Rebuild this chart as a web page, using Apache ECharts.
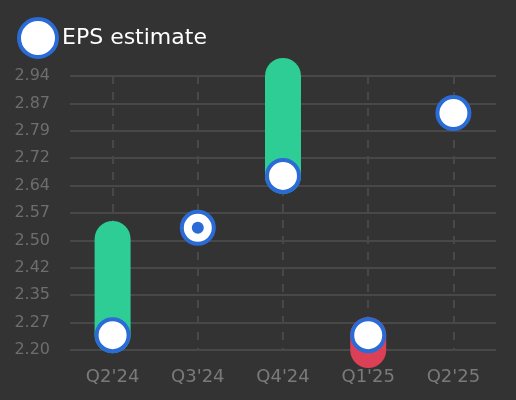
<!DOCTYPE html>
<html>

<head>
	<meta charset="utf-8">
	<title>EPS estimate</title>
	<script src="https://cdn.jsdelivr.net/npm/echarts@6/dist/echarts.min.js"></script>
	<style>
		html, body { margin: 0; padding: 0; background: #333333; }
	</style>
</head>

<body>
	<div id="main" style="width: 516px;height:400px;"></div>

	<script type="text/javascript">
		// data
		var quarters = ["Q2'24", "Q3'24", "Q4'24", "Q1'25", "Q2'25"];
		var estimate = [2.24, 2.53, 2.67, 2.24, 2.84];
		var actual = [2.50, 2.53, 2.94, 2.20, null];
		var yMin = 2.20;
		var yMax = 2.94;
		var yStep = 0.074;

		var green = '#2ecd95';
		var red = '#db4057';
		var blue = '#2b6bd6';
		var gridColor = '#484848';

		// bar = est -> actual, met = only where they are equal
		var bars = [];
		var met = [];
		quarters.forEach(function (q, i) {
			if (actual[i] != null && actual[i] !== estimate[i]) {
				bars.push([i, estimate[i], actual[i]]);
			}
			met.push(actual[i] != null && actual[i] === estimate[i] ? actual[i] : '-');
		});

		var myChart = echarts.init(document.getElementById('main'));
		var option = {
			backgroundColor: '#333333',
			textStyle: { fontFamily: 'DejaVu Sans' },
			legend: {
				data: ['EPS estimate'],
				left: 12,
				top: 12,
				itemWidth: 38,
				itemHeight: 38,
				itemGap: 10,
				itemStyle: { color: '#ffffff', borderColor: blue, borderWidth: 4 },
				textStyle: { color: '#ffffff', fontSize: 22 }
			},
			grid: { left: 70, right: 20, top: 76, bottom: 50 },
			xAxis: {
				type: 'category',
				data: quarters,
				axisLine: { show: false },
				axisTick: { show: false },
				axisLabel: { color: '#7a7a7a', fontSize: 18, margin: 18 },
				splitLine: {
					show: true,
					alignWithLabel: true,
					lineStyle: { color: gridColor, type: [8, 8], width: 2 }
				}
			},
			yAxis: {
				type: 'value',
				min: yMin,
				max: yMax,
				interval: yStep,
				axisLine: { show: false },
				axisTick: { show: false },
				axisLabel: {
					color: '#6e6e6e',
					fontSize: 16,
					margin: 20,
					formatter: function (v) { return v.toFixed(2); }
				},
				splitLine: { lineStyle: { color: gridColor, width: 2 } }
			},
			series: [{
					name: 'actual',
					type: 'custom',
					data: bars,
					z: 2,
					renderItem: function (params, api) {
						var a = api.coord([api.value(0), api.value(1)]);
						var b = api.coord([api.value(0), api.value(2)]);
						return {
							type: 'line',
							shape: { x1: a[0], y1: a[1], x2: b[0], y2: b[1] },
							style: {
								stroke: api.value(2) > api.value(1) ? green : red,
								lineWidth: 36,
								lineCap: 'round'
							}
						};
					}
				},
				{
					name: 'EPS estimate',
					type: 'scatter',
					data: estimate,
					symbol: 'circle',
					symbolSize: 32,
					z: 3,
					itemStyle: { color: '#ffffff', borderColor: blue, borderWidth: 4, opacity: 1 }
				},
				{
					name: 'met',
					type: 'scatter',
					data: met,
					symbolSize: 12,
					z: 4,
					itemStyle: { color: blue, opacity: 1 }
				}
			]
		};

		myChart.setOption(option);
	</script>
</body>

</html>
